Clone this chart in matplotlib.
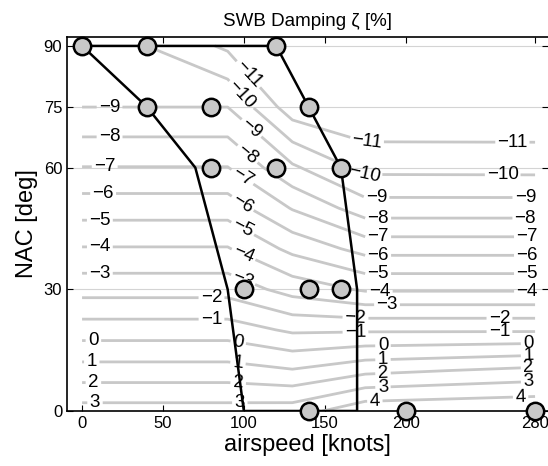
import numpy as np
import matplotlib
matplotlib.use("Agg")
import matplotlib.pyplot as plt

plt.rcParams['font.family'] = ['Liberation Sans', 'DejaVu Sans']

# damping table (rows = NAC nodes, columns = airspeed nodes)
airspeed = [0, 90, 130, 175, 280]
nac = [0, 10, 20, 30, 40, 50, 60, 75, 90]
zeta = [
    [3.41, 3.41, 3.50, 4.71, 4.97],
    [1.40, 1.40, 1.07, 1.73, 2.26],
    [-0.50, -0.50, -1.17, -1.14, -1.14],
    [-2.39, -2.39, -3.40, -4.14, -4.14],
    [-3.93, -3.93, -5.27, -6.36, -6.36],
    [-5.45, -5.45, -7.07, -8.53, -8.53],
    [-6.97, -6.97, -8.83, -10.30, -10.32],
    [-9.01, -9.01, -11.60, -11.95, -11.95],
    [-9.05, -11.19, -11.80, -11.95, -11.95],
]
levels = list(range(-11, 5))

# trim points
pt_speed = [0, 40, 120, 40, 80, 140, 80, 120, 160, 100, 140, 160, 140, 200, 280]
pt_nac = [90, 90, 90, 75, 75, 75, 60, 60, 60, 30, 30, 30, 0, 0, 0]

# flight envelope
env_speed = [0, 120, 140, 160, 170, 170, 100, 90, 70, 40, 0]
env_nac = [90, 90, 75, 60, 30, 0, 0, 30, 60, 75, 90]

# contour label spots (airspeed, NAC)
label_pos = [
    (17, 74.8), (17, 67), (14, 60), (13, 53), (11, 47), (11, 40), (11, 33.6),
    (7, 17), (6, 12), (7, 7), (8, 2),
    (80, 27.4), (80, 22.5),
    (102, 82.7), (98, 77.8), (104, 69.4), (102, 63.2), (98, 57), (99, 51),
    (98, 44), (99, 37.8), (99, 31.8),
    (96.5, 16.8), (96.5, 12.3), (96.5, 6.9), (97.5, 2.2),
    (176, 65.7), (174, 57.8), (182, 52), (183, 47.7), (183, 43), (183, 38.3),
    (183, 33.6), (184, 29.4), (188.5, 26), (169, 23), (169, 19.3),
    (186, 16), (186, 12.6), (186, 9.4), (186, 5.7), (181, 2),
    (266, 65.7), (260, 57.3), (274, 52), (274, 47.7), (275, 43), (275, 38.3),
    (275, 33.6), (275, 29.4), (258, 23), (258, 19.3),
    (276, 16.3), (276, 13.3), (276, 10.6), (276, 7.7), (271, 4.4),
]

xticks = [0, 50, 100, 150, 200, 280]
yticks = [0, 30, 60, 75, 90]

fig = plt.figure(figsize=(5.48, 4.66), dpi=100)
ax = fig.add_axes([0.1223, 0.118, 0.8777, 0.8026])

X, Y = np.meshgrid(airspeed, nac)
cs = ax.contour(X, Y, np.array(zeta), levels=levels, colors='#c8c8c8',
                linewidths=2.0, linestyles='solid', negative_linestyles='solid',
                zorder=2)
ax.clabel(cs, levels, manual=label_pos, inline=True, inline_spacing=3,
          fontsize=13.5, colors='black',
          fmt=lambda v: f"{v:.0f}".replace('-', '\u2212'))

ax.plot(env_speed, env_nac, color='black', lw=1.8, zorder=3)
ax.plot(pt_speed, pt_nac, 'o', ms=12.5, mfc='#c8c8c8', mec='black', mew=1.8,
        zorder=4, clip_on=False)

ax.set_xlim(-9.3, 288)
ax.set_ylim(0, 92.2)
ax.set_xticks(xticks)
ax.set_yticks(yticks)
ax.tick_params(direction='in', top=True, right=True, length=4, labelsize=12,
               width=0.8)
ax.yaxis.grid(True, color='#d4d4d4', lw=0.8)
ax.set_axisbelow(True)
ax.spines['right'].set_visible(False)
for s in ['left', 'bottom', 'top']:
    ax.spines[s].set_linewidth(1.2)

ax.set_xlabel('airspeed [knots]', fontsize=17, labelpad=2)
ax.set_ylabel('NAC [deg]', fontsize=17, labelpad=4)
ax.set_title('SWB Damping \u03b6 [%]', fontsize=13.5, pad=8)

fig.savefig('out.png', dpi=100)
